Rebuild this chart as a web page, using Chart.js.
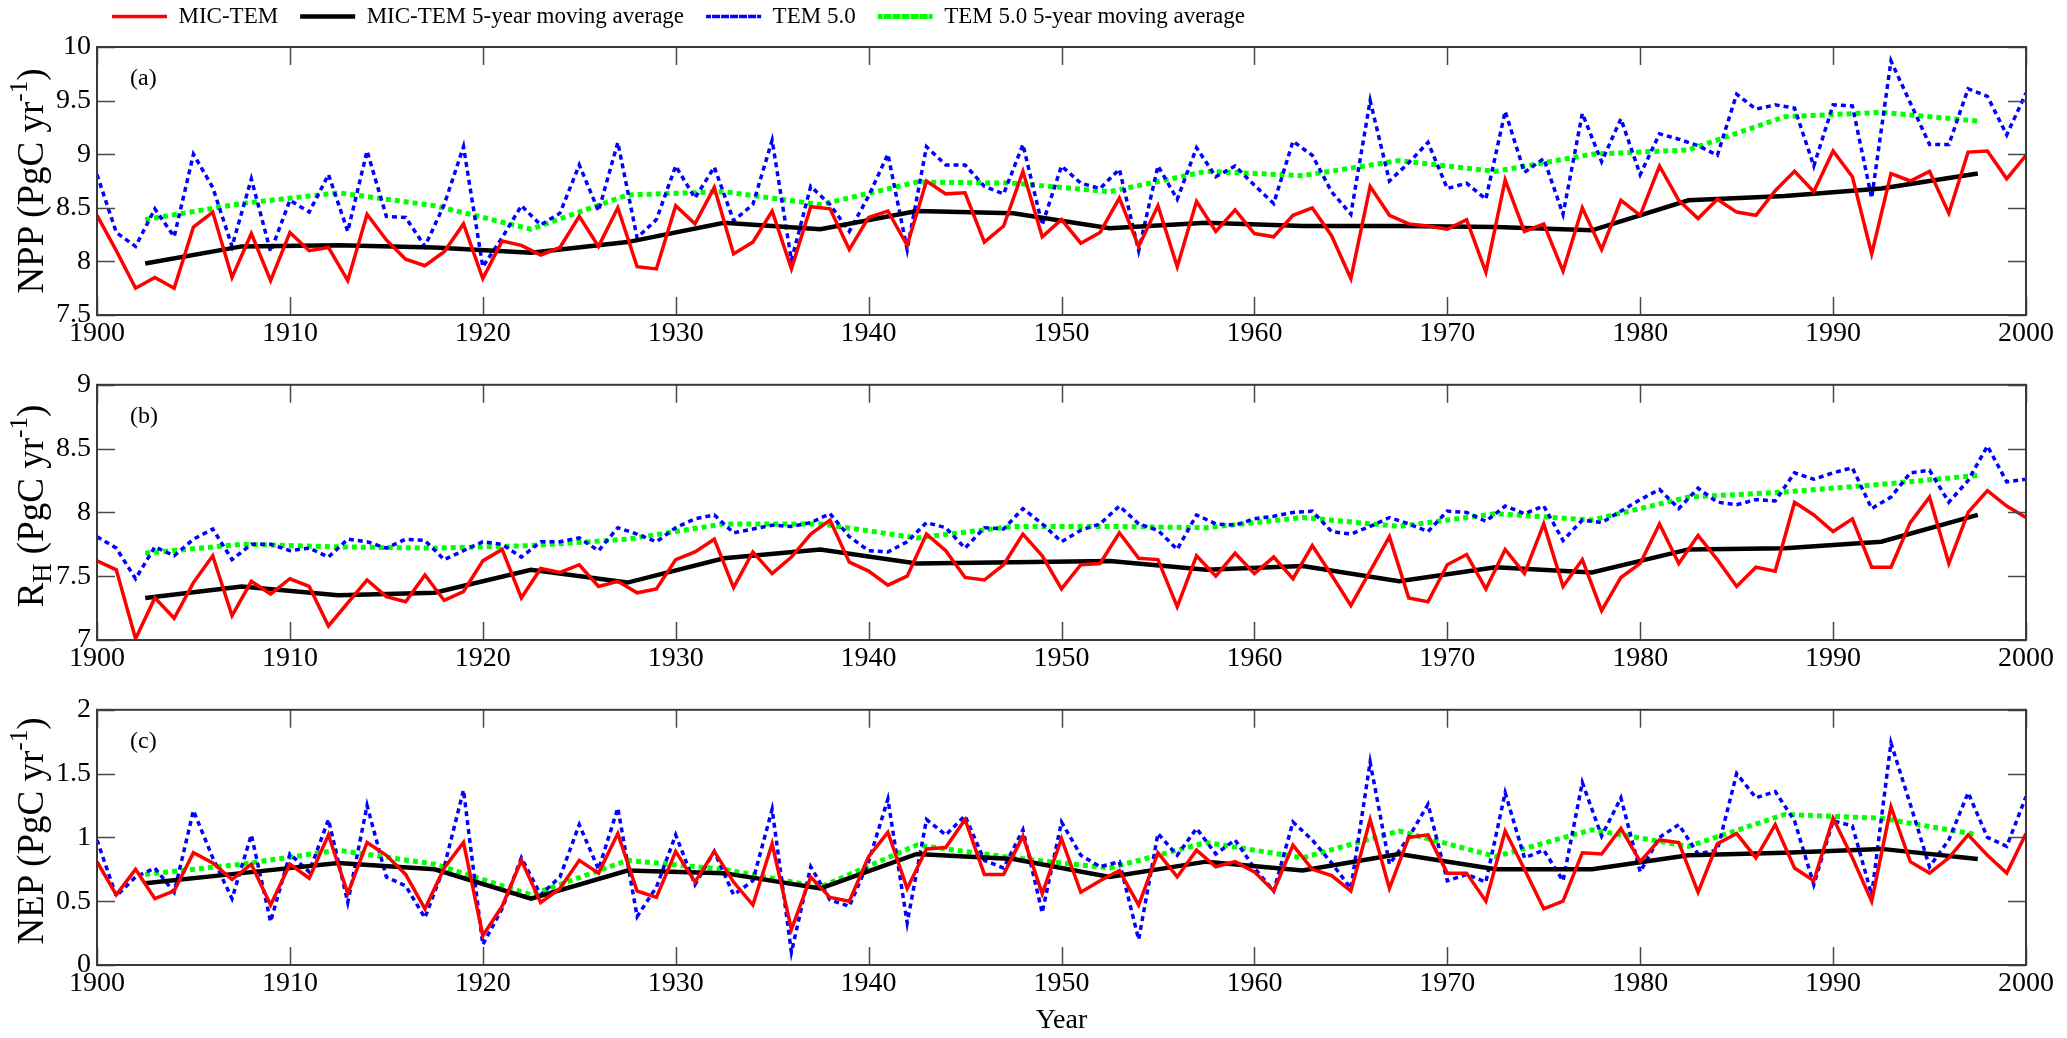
<!DOCTYPE html>
<html>
<head>
<meta charset="utf-8">
<script src="https://cdn.jsdelivr.net/npm/chart.js@4.4.1/dist/chart.umd.min.js"></script>
<style>
html,body{margin:0;padding:0;background:#fff;overflow:hidden}
#wrap{position:relative;width:2067px;height:1038px;overflow:hidden;background:#fff}
.pane{position:absolute;left:0;width:2067px}
.ytitle{position:absolute;font-family:'Liberation Serif','Times New Roman',serif;font-size:37px;color:#000;white-space:nowrap;transform:translate(-50%,-50%) rotate(-90deg);line-height:1}
.ytitle sup{font-size:0.68em;vertical-align:0.62em;line-height:0}
.ytitle sub{font-size:0.72em;vertical-align:-0.32em;line-height:0}
</style>
</head>
<body>
<div id="wrap">
  <div class="pane" style="top:-17px;height:372px"><canvas id="ca"></canvas></div>
  <div class="pane" style="top:362px;height:318px"><canvas id="cb"></canvas></div>
  <div class="pane" style="top:687px;height:351px"><canvas id="cc"></canvas></div>
  <div class="ytitle" style="left:30px;top:181px">NPP (PgC yr<sup>-1</sup>)</div>
  <div class="ytitle" style="left:30px;top:506px">R<sub>H</sub> (PgC yr<sup>-1</sup>)</div>
  <div class="ytitle" style="left:30px;top:831px">NEP (PgC yr<sup>-1</sup>)</div>
</div>
<script>
// ---------- data ----------
const years = Array.from({length: 101}, (_, i) => 1900 + i);
const maYears = [1902.5,1907.5,1912.5,1917.5,1922.5,1927.5,1932.5,1937.5,1942.5,1947.5,
                 1952.5,1957.5,1962.5,1967.5,1972.5,1977.5,1982.5,1987.5,1992.5,1997.5];
const xTicks = [1900,1910,1920,1930,1940,1950,1960,1970,1980,1990,2000];

const nppMic = [8.43,8.10,7.75,7.85,7.75,8.32,8.46,7.85,8.26,7.82,
  8.27,8.10,8.13,7.82,8.44,8.20,8.02,7.96,8.09,8.35,
  7.84,8.19,8.15,8.06,8.13,8.42,8.14,8.50,7.95,7.93,
  8.52,8.35,8.69,8.07,8.18,8.47,7.93,8.51,8.49,8.11,
  8.41,8.47,8.15,8.75,8.63,8.64,8.18,8.33,8.84,8.23,
  8.39,8.17,8.27,8.59,8.14,8.52,7.95,8.56,8.28,8.48,
  8.26,8.23,8.43,8.50,8.24,7.84,8.70,8.43,8.35,8.33,
  8.30,8.39,7.90,8.76,8.28,8.35,7.91,8.50,8.11,8.57,
  8.43,8.89,8.57,8.40,8.58,8.46,8.43,8.66,8.84,8.65,
  9.03,8.79,8.07,8.82,8.75,8.84,8.45,9.02,9.03,8.77,
  8.99];
const nppTem = [8.81,8.27,8.14,8.49,8.23,9.00,8.69,8.14,8.77,8.09,
  8.57,8.46,8.81,8.28,9.03,8.42,8.41,8.14,8.53,9.07,
  7.95,8.22,8.52,8.34,8.45,8.90,8.47,9.11,8.22,8.39,
  8.89,8.59,8.88,8.38,8.53,9.13,8.01,8.70,8.53,8.28,
  8.61,9.00,8.11,9.07,8.90,8.90,8.70,8.63,9.09,8.34,
  8.89,8.73,8.68,8.86,8.10,8.89,8.58,9.06,8.79,8.89,
  8.71,8.54,9.12,8.99,8.65,8.44,9.50,8.75,8.92,9.11,
  8.68,8.73,8.58,9.40,8.83,8.96,8.44,9.38,8.93,9.33,
  8.81,9.19,9.14,9.08,8.99,9.56,9.42,9.46,9.43,8.89,
  9.46,9.45,8.59,9.87,9.48,9.09,9.09,9.61,9.54,9.18,
  9.57];
const nppMicMA = [7.98,8.14,8.15,8.13,8.08,8.18,8.36,8.30,8.47,8.45,8.31,8.36,8.33,8.33,8.32,8.29,8.57,8.61,8.68,8.82];
const nppTemMA = [8.39,8.54,8.64,8.52,8.30,8.62,8.65,8.53,8.74,8.73,8.65,8.84,8.80,8.94,8.84,9.00,9.04,9.35,9.39,9.31];

const rhMic = [7.62,7.55,7.01,7.33,7.17,7.45,7.66,7.19,7.46,7.36,
  7.48,7.42,7.11,7.29,7.47,7.34,7.30,7.51,7.31,7.38,
  7.62,7.71,7.33,7.56,7.53,7.59,7.42,7.46,7.37,7.40,
  7.63,7.69,7.79,7.41,7.69,7.52,7.65,7.83,7.94,7.61,
  7.54,7.43,7.50,7.83,7.70,7.49,7.47,7.59,7.83,7.66,
  7.40,7.59,7.60,7.84,7.64,7.63,7.26,7.66,7.50,7.68,
  7.52,7.65,7.48,7.74,7.51,7.27,7.54,7.81,7.33,7.30,
  7.59,7.67,7.40,7.71,7.52,7.91,7.42,7.63,7.23,7.49,
  7.60,7.91,7.60,7.82,7.63,7.42,7.57,7.54,8.08,7.98,
  7.85,7.95,7.57,7.57,7.92,8.12,7.60,8.00,8.17,8.05,
  7.96];
const rhTem = [7.81,7.72,7.48,7.73,7.66,7.79,7.87,7.63,7.75,7.75,
  7.70,7.72,7.65,7.79,7.77,7.72,7.79,7.78,7.63,7.70,
  7.77,7.75,7.65,7.77,7.77,7.80,7.70,7.88,7.83,7.77,
  7.88,7.95,7.98,7.84,7.87,7.90,7.89,7.92,7.99,7.81,
  7.70,7.69,7.77,7.92,7.88,7.72,7.88,7.87,8.03,7.91,
  7.77,7.86,7.91,8.05,7.91,7.86,7.71,7.98,7.91,7.90,
  7.95,7.97,8.00,8.01,7.85,7.83,7.89,7.96,7.91,7.85,
  8.01,8.00,7.93,8.05,7.99,8.05,7.78,7.94,7.92,8.01,
  8.10,8.18,8.03,8.19,8.08,8.06,8.10,8.09,8.31,8.26,
  8.31,8.35,8.03,8.12,8.31,8.33,8.08,8.25,8.52,8.24,
  8.26];
const rhMicMA = [7.33,7.42,7.35,7.37,7.55,7.45,7.64,7.71,7.60,7.61,7.62,7.55,7.58,7.46,7.57,7.53,7.71,7.72,7.77,7.98];
const rhTemMA = [7.68,7.75,7.73,7.72,7.74,7.79,7.91,7.91,7.80,7.89,7.89,7.88,7.96,7.89,7.99,7.94,8.12,8.16,8.22,8.29];

const nepMic = [0.81,0.55,0.75,0.52,0.58,0.88,0.80,0.67,0.79,0.47,
  0.79,0.68,1.02,0.56,0.96,0.86,0.71,0.44,0.76,0.96,
  0.23,0.46,0.82,0.49,0.60,0.82,0.72,1.03,0.58,0.53,
  0.89,0.65,0.89,0.65,0.47,0.95,0.28,0.69,0.53,0.50,
  0.85,1.04,0.60,0.91,0.92,1.14,0.71,0.71,1.01,0.56,
  0.99,0.57,0.66,0.74,0.47,0.88,0.69,0.90,0.77,0.81,
  0.73,0.58,0.94,0.75,0.70,0.58,1.14,0.60,1.00,1.02,
  0.72,0.72,0.50,1.05,0.75,0.44,0.50,0.88,0.87,1.07,
  0.81,0.98,0.96,0.57,0.95,1.03,0.84,1.10,0.76,0.66,
  1.15,0.84,0.50,1.24,0.81,0.72,0.84,1.02,0.86,0.72,
  1.03];
const nepTem = [0.98,0.54,0.69,0.76,0.57,1.21,0.84,0.52,1.02,0.34,
  0.87,0.73,1.14,0.49,1.25,0.69,0.62,0.37,0.77,1.37,
  0.16,0.44,0.84,0.55,0.69,1.10,0.75,1.23,0.38,0.61,
  1.02,0.63,0.89,0.55,0.66,1.22,0.10,0.77,0.51,0.46,
  0.81,1.30,0.33,1.14,1.02,1.17,0.82,0.76,1.06,0.41,
  1.12,0.86,0.77,0.81,0.20,1.03,0.86,1.07,0.87,0.98,
  0.76,0.58,1.12,0.98,0.80,0.60,1.59,0.79,1.00,1.26,
  0.66,0.71,0.65,1.35,0.84,0.90,0.66,1.43,1.01,1.31,
  0.73,1.00,1.10,0.87,0.90,1.50,1.31,1.36,1.13,0.63,
  1.13,1.09,0.55,1.74,1.26,0.77,0.98,1.35,1.00,0.93,
  1.32];
const nepMicMA = [0.64,0.72,0.80,0.75,0.52,0.74,0.72,0.60,0.87,0.83,0.69,0.81,0.74,0.87,0.75,0.75,0.86,0.88,0.91,0.83];
const nepTemMA = [0.71,0.79,0.90,0.79,0.55,0.82,0.75,0.61,0.94,0.84,0.76,0.96,0.84,1.05,0.85,1.06,0.93,1.18,1.15,1.02];

const seriesNames = ['MIC-TEM','MIC-TEM 5-year moving average','TEM 5.0','TEM 5.0 5-year moving average'];
const panelLabels = ['(a)','(b)','(c)'];

// ---------- drawing ----------
const FONT = "'Liberation Serif', 'Times New Roman', serif";
const pts = (xs, ys) => xs.map((x, i) => ({x: x, y: ys[i]}));

const deco = {
  id: 'deco',
  beforeInit(chart, args, opts) {
    if (opts.legendHeight && chart.legend) {
      const orig = chart.legend.fit;
      chart.legend.fit = function () { orig.call(this); this.height = opts.legendHeight; };
    }
  },
  afterLayout(chart, args, opts) {
    if (opts.legendShift && chart.legend) chart.legend.left += opts.legendShift;
  },
  afterDraw(chart, args, opts) {
    const {ctx, chartArea: a, scales: {x, y}} = chart;
    ctx.save();
    ctx.strokeStyle = '#4a4a4a';
    ctx.lineWidth = 1.5;
    const L = 18;
    ctx.beginPath();
    x.ticks.forEach(t => {
      const px = Math.round(x.getPixelForValue(t.value)) + 0.5;
      ctx.moveTo(px, a.bottom); ctx.lineTo(px, a.bottom - L);
      ctx.moveTo(px, a.top); ctx.lineTo(px, a.top + L);
    });
    y.ticks.forEach(t => {
      const py = Math.round(y.getPixelForValue(t.value)) + 0.5;
      ctx.moveTo(a.left, py); ctx.lineTo(a.left + L, py);
      ctx.moveTo(a.right, py); ctx.lineTo(a.right - L, py);
    });
    ctx.stroke();
    ctx.lineWidth = 2;
    ctx.strokeStyle = '#3a3a3a';
    ctx.strokeRect(a.left, a.top, a.right - a.left, a.bottom - a.top);
    ctx.fillStyle = '#000';
    ctx.font = '24px ' + FONT;
    ctx.textBaseline = 'middle';
    ctx.textAlign = 'left';
    ctx.fillText(opts.label, a.left + 33, a.top + 32);
    ctx.restore();
  }
};

function makePanel(id, cfg) {
  const datasets = [
    {label: seriesNames[0], data: pts(years, cfg.mic), borderColor: '#ff0000', backgroundColor: '#ff0000', borderWidth: 3.5},
    {label: seriesNames[1], data: pts(maYears, cfg.micMA), borderColor: '#000000', backgroundColor: '#000000', borderWidth: 4.5},
    {label: seriesNames[2], data: pts(years, cfg.tem), borderColor: '#0000ff', backgroundColor: '#0000ff', borderWidth: 3.5, borderDash: [5, 4]},
    {label: seriesNames[3], data: pts(maYears, cfg.temMA), borderColor: '#00ff00', backgroundColor: '#00ff00', borderWidth: 5, borderDash: [5, 4]}
  ];
  return new Chart(document.getElementById(id), {
    type: 'line',
    data: {datasets: datasets},
    options: {
      responsive: true,
      maintainAspectRatio: false,
      animation: false,
      events: [],
      elements: {point: {radius: 0}, line: {tension: 0}},
      layout: {autoPadding: false, padding: {left: 0, right: 41, top: cfg.top, bottom: 0}},
      plugins: {
        tooltip: {enabled: false},
        legend: {
          display: cfg.legend,
          position: 'top',
          align: 'start',
          labels: {font: {family: FONT, size: 23}, color: '#000', boxWidth: 55, boxHeight: 0, padding: 22}
        },
        deco: {label: cfg.label, legendHeight: cfg.legend ? 64 : 0, legendShift: cfg.legend ? 90 : 0}
      },
      scales: {
        x: {
          type: 'linear', min: 1900, max: 2000,
          afterBuildTicks: s => { s.ticks = xTicks.map(v => ({value: v})); },
          ticks: {font: {family: FONT, size: 28}, color: '#000', padding: 2, maxRotation: 0, autoSkip: false,
                  callback: v => String(v)},
          grid: {display: false, drawTicks: false}, border: {display: false},
          title: cfg.xTitle ? {display: true, text: 'Year', font: {family: FONT, size: 28}, color: '#000', padding: {top: 0, bottom: 1}} : {display: false},
          afterFit: s => { s.height = cfg.xh; }
        },
        y: {
          min: cfg.min, max: cfg.max,
          afterBuildTicks: s => { s.ticks = cfg.yTicks.map(v => ({value: v})); },
          ticks: {font: {family: FONT, size: 28}, color: '#000', padding: 6, autoSkip: false, callback: v => String(v)},
          grid: {display: false, drawTicks: false}, border: {display: false},
          afterFit: s => { s.width = 97; }
        }
      }
    },
    plugins: [deco]
  });
}

makePanel('ca', {mic: nppMic, micMA: nppMicMA, tem: nppTem, temMA: nppTemMA, min: 7.5, max: 10,
  yTicks: [7.5, 8, 8.5, 9, 9.5, 10], label: panelLabels[0], legend: true, top: 0, xh: 40, xTitle: false});
makePanel('cb', {mic: rhMic, micMA: rhMicMA, tem: rhTem, temMA: rhTemMA, min: 7, max: 9,
  yTicks: [7, 7.5, 8, 8.5, 9], label: panelLabels[1], legend: false, top: 10, xh: 40, xTitle: false});
makePanel('cc', {mic: nepMic, micMA: nepMicMA, tem: nepTem, temMA: nepTemMA, min: 0, max: 2,
  yTicks: [0, 0.5, 1, 1.5, 2], label: panelLabels[2], legend: false, top: 10, xh: 73, xTitle: true});
</script>
</body>
</html>
